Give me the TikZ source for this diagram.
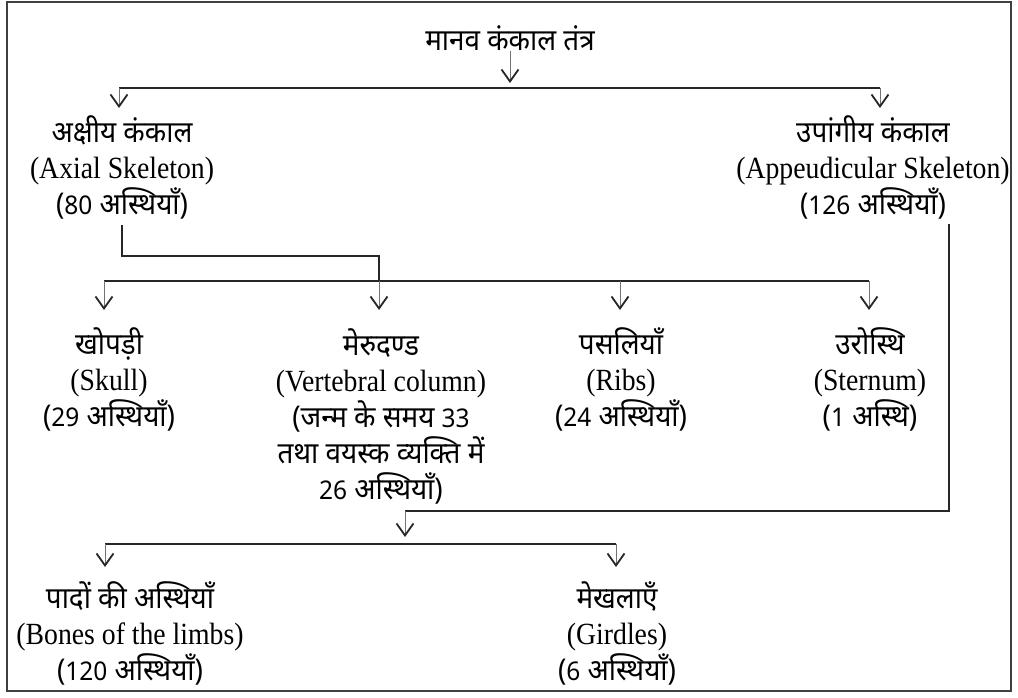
\documentclass[tikz,border=0pt]{standalone}
\usepackage{fontspec}
\setmainfont{Liberation Serif}[Scale=1.1, FakeStretch=0.9]
\newfontfamily\hindi[Script=Devanagari,Scale=1.07,FakeStretch=0.93]{Noto Sans}
\newfontfamily\hnum[Scale=0.92,FakeStretch=0.95]{Noto Sans}
\usetikzlibrary{
    positioning,  % For placing nodes relative to each other
    arrows.meta   % For the open arrow tips
}
\newcommand{\boxfont}{\fontsize{28}{36}\selectfont\lineskiplimit=-40pt\relax}
\newcommand{\nm}[1]{{\hnum #1}}

\begin{document}
\begin{tikzpicture}[
    x=1pt, y=-1pt,
    % Style for the text blocks
    item_style/.style={
        align=center,
        inner sep=0pt,
        font=\boxfont
    },
    % Style for the plain connecting lines
    link_style/.style={
        line width=1.3pt,
        color=black!85
    },
    % Style for the horizontal branch bars
    bar_style/.style={
        line width=1.8pt,
        color=black!85
    },
    % Style for the arrows
    arrow_tip/.style={
        line width=1pt,
        color=black!55,
        -{Straight Barb[length=12pt, width=17pt, line width=1.8pt, color=black!85]}
    }
]
    \useasboundingbox (0,0) rectangle (1018,698);
    \draw[line width=1.2pt, color=black!75] (7,2) rectangle (1011,691);

    % 1. The nodes of the tree
    \node[item_style] (system) at (510,38) {\hindi मानव कंकाल तंत्र};

    \node[item_style] (axial) at (122,167)
        {{\hindi अक्षीय कंकाल}\\(Axial Skeleton)\\{\hindi (\nm{80} अस्थियाँ)}};
    \node[item_style] (appendicular) at (873,167)
        {{\hindi उपांगीय कंकाल}\\(Appeudicular Skeleton)\\{\hindi (\nm{126} अस्थियाँ)}};

    \node[item_style] (skull) at (109,379)
        {{\hindi खोपड़ी}\\(Skull)\\{\hindi (\nm{29} अस्थियाँ)}};
    \node[item_style] (vertebral) at (381,416)
        {{\hindi मेरुदण्ड}\\(Vertebral column)\\{\hindi (जन्म के समय \nm{33}}\\{\hindi तथा वयस्क व्यक्ति में}\\{\hindi \nm{26} अस्थियाँ)}};
    \node[item_style] (ribs) at (621,379)
        {{\hindi पसलियाँ}\\(Ribs)\\{\hindi (\nm{24} अस्थियाँ)}};
    \node[item_style] (sternum) at (870,379)
        {{\hindi उरोस्थि}\\(Sternum)\\{\hindi (\nm{1} अस्थि)}};

    \node[item_style] (limbs) at (130,633)
        {{\hindi पादों की अस्थियाँ}\\(Bones of the limbs)\\{\hindi (\nm{120} अस्थियाँ)}};
    \node[item_style] (girdles) at (617,633)
        {{\hindi मेखलाएँ}\\(Girdles)\\{\hindi (\nm{6} अस्थियाँ)}};

    % 2. Branch points and arrow ends
    \coordinate (system_tip) at (510,83);
    \coordinate (bar1_l) at (119,88);
    \coordinate (bar1_r) at (880,88);
    \coordinate (axial_tip) at (119,108);
    \coordinate (appendicular_tip) at (880,108);

    \coordinate (axial_turn) at (379,256);
    \coordinate (bar2_l) at (104,281);
    \coordinate (bar2_m) at (379,281);
    \coordinate (bar2_c) at (620,281);
    \coordinate (bar2_r) at (869,281);
    \coordinate (skull_tip) at (104,310);
    \coordinate (vertebral_tip) at (379,310);
    \coordinate (ribs_tip) at (620,310);
    \coordinate (sternum_tip) at (869,310);

    \coordinate (appendicular_out) at (949,224);
    \coordinate (appendicular_turn) at (405,511);
    \coordinate (bar3_m) at (405,537);
    \coordinate (bar3_l) at (105,544);
    \coordinate (bar3_r) at (616,544);
    \coordinate (limbs_tip) at (105,567);
    \coordinate (girdles_tip) at (616,567);

    % 3. First level
    \draw[arrow_tip] (system) -- (system_tip);
    \draw[bar_style] (bar1_l) -- (bar1_r);
    \draw[arrow_tip] (bar1_l) -- (axial_tip);
    \draw[arrow_tip] (bar1_r) -- (appendicular_tip);

    % 4. Axial skeleton branches
    \draw[link_style] ([yshift=-6pt]axial.south) -- (axial.south |- axial_turn) -- (axial_turn) -- (bar2_m);
    \draw[bar_style] (bar2_l) -- (bar2_r);
    \draw[arrow_tip] (bar2_l) -- (skull_tip);
    \draw[arrow_tip] (bar2_m) -- (vertebral_tip);
    \draw[arrow_tip] (bar2_c) -- (ribs_tip);
    \draw[arrow_tip] (bar2_r) -- (sternum_tip);

    % 5. Appendicular skeleton branches
    \draw[link_style] (appendicular_out) |- (appendicular_turn);
    \draw[arrow_tip] (appendicular_turn) -- (bar3_m);
    \draw[bar_style] (bar3_l) -- (bar3_r);
    \draw[arrow_tip] (bar3_l) -- (limbs_tip);
    \draw[arrow_tip] (bar3_r) -- (girdles_tip);

\end{tikzpicture}
\end{document}
